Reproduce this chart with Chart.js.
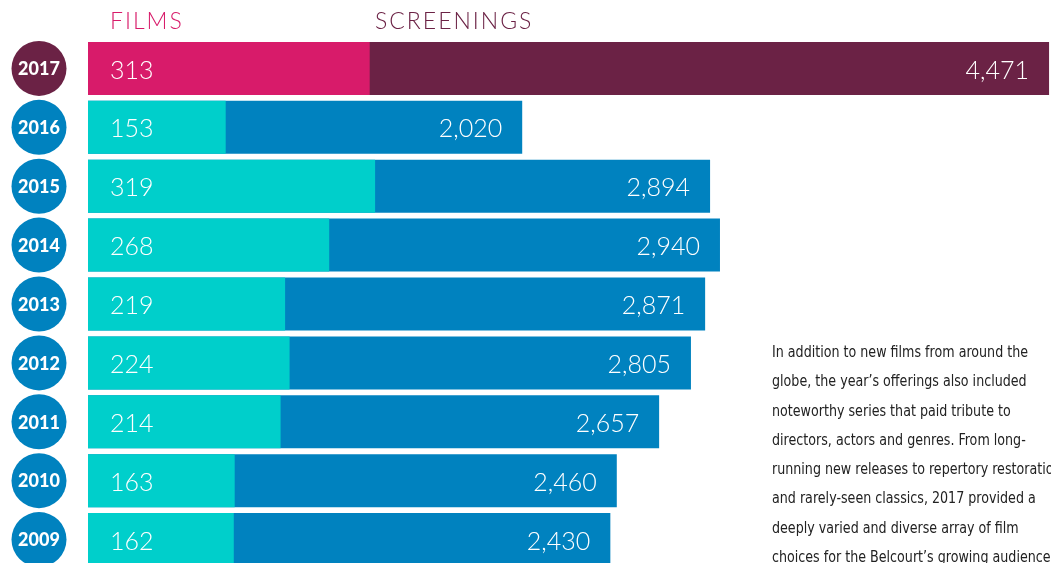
<!DOCTYPE html>
<html>
<head>
<meta charset="utf-8">
<script src="https://cdn.jsdelivr.net/npm/chart.js@4.4.0/dist/chart.umd.min.js"></script>
<style>
  html, body { margin: 0; padding: 0; background: #fff; overflow: hidden; }
  #wrap { position: absolute; left: 0; top: 0; width: 1051px; height: 572px; }
  .hdr { position: absolute; top: 6px; font-family: Lato, "Open Sans", sans-serif; font-weight: 300; font-size: 23px; letter-spacing: 2px; }
  #para { position: absolute; left: 772px; top: 338px; width: 340px; white-space: nowrap;
          font-family: "Liberation Sans Narrow", "DejaVu Sans Condensed", sans-serif; font-size: 15.5px;
          line-height: 29.3px; color: #222; transform: scaleX(0.91); transform-origin: left top; }
</style>
</head>
<body>
<div id="wrap"><canvas id="c" width="1051" height="572"></canvas></div>
<div class="hdr" style="left:110px;color:#d81b6a;">FILMS</div>
<div class="hdr" style="left:375px;color:#6b2245;">SCREENINGS</div>
<div id="para">In addition to new films from around the<br>globe, the year’s offerings also included<br>noteworthy series that paid tribute to<br>directors, actors and genres. From long-<br>running new releases to repertory restorations<br>and rarely-seen classics, 2017 provided a<br>deeply varied and diverse array of film<br>choices for the Belcourt’s growing audiences.</div>
<script>
const years = ['2017','2016','2015','2014','2013','2012','2011','2010','2009'];
const films = [313,153,319,268,219,224,214,163,162];
const screenings = [4471,2020,2894,2940,2871,2805,2657,2460,2430];

const filmColors = years.map((y,i) => i === 0 ? '#d81b6a' : '#00cfcb');
const screenColors = years.map((y,i) => i === 0 ? '#6b2245' : '#0082bf');
const circleColors = years.map((y,i) => i === 0 ? '#6b2245' : '#0082bf');

const labelPlugin = {
  id: 'labels',
  afterDatasetsDraw(chart) {
    const ctx = chart.ctx;
    const fm = chart.getDatasetMeta(0);
    const sm = chart.getDatasetMeta(1);
    ctx.save();
    ctx.fillStyle = '#fff';
    ctx.font = '300 25px Lato, "Open Sans", sans-serif';
    ctx.textBaseline = 'middle';
    fm.data.forEach((bar, i) => {
      ctx.textAlign = 'left';
      ctx.fillText(String(films[i]), bar.base + 22, bar.y + 2);
    });
    sm.data.forEach((bar, i) => {
      ctx.textAlign = 'right';
      ctx.fillText(screenings[i].toLocaleString('en-US'), bar.x - 20, bar.y + 2);
    });
    // year circles
    const ys = chart.scales.y;
    years.forEach((yr, i) => {
      const cy = ys.getPixelForValue(i);
      ctx.beginPath();
      ctx.arc(39, cy, 27.5, 0, Math.PI * 2);
      ctx.fillStyle = circleColors[i];
      ctx.fill();
      ctx.fillStyle = '#fff';
      ctx.textAlign = 'center';
      ctx.font = '900 18px Lato, "Open Sans", sans-serif';
      ctx.fillText(yr, 39, cy + 1);
    });
    ctx.restore();
  }
};

new Chart(document.getElementById('c'), {
  type: 'bar',
  data: {
    labels: years,
    datasets: [
      { label: 'Films', data: films, xAxisID: 'xf', backgroundColor: filmColors, grouped: false,
        barPercentage: 0.9, categoryPercentage: 1, borderWidth: 0 },
      { label: 'Screenings', data: screenings, xAxisID: 'xs', backgroundColor: screenColors, grouped: false,
        barPercentage: 0.9, categoryPercentage: 1, borderWidth: 0 }
    ]
  },
  options: {
    indexAxis: 'y',
    responsive: false,
    animation: false,
    layout: { padding: { left: 88, top: 39, right: 0, bottom: 3 } },
    scales: {
      y: { display: false, grid: { display: false } },
      xf: { type: 'linear', display: false, min: 0, max: 1070, position: 'top' },
      xs: { type: 'linear', display: false, min: 0, max: 4480, position: 'bottom' }
    },
    plugins: { legend: { display: false }, tooltip: { enabled: false } }
  },
  plugins: [labelPlugin]
});
</script>
</body>
</html>
